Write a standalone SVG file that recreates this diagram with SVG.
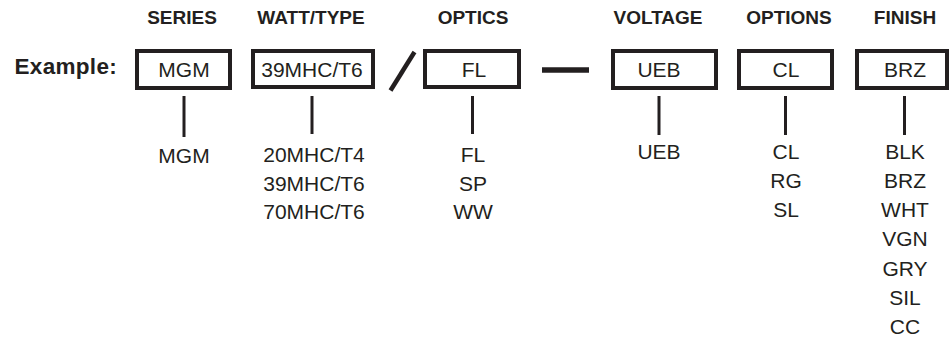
<svg xmlns="http://www.w3.org/2000/svg" width="950" height="339" viewBox="0 0 950 339">
<style>
text{font-family:"Liberation Sans",Arial,sans-serif;fill:#231f20;text-anchor:middle}
.h{font-weight:bold;font-size:19px}
.b{font-size:21px}
.box{fill:#fff;stroke:#231f20;stroke-width:4}
.ln{stroke:#231f20;stroke-width:3;fill:none}
</style>
<rect width="950" height="339" fill="#fff"/>
<g id="headers">
<text class="h" x="182" y="24">SERIES</text>
<text class="h" x="311" y="24">WATT/TYPE</text>
<text class="h" x="473" y="24">OPTICS</text>
<text class="h" x="658" y="24">VOLTAGE</text>
<text class="h" x="789" y="24">OPTIONS</text>
<text class="h" x="905" y="24">FINISH</text>
</g>
<text id="example" x="117" y="74" style="font-weight:bold;font-size:22.5px;text-anchor:end;letter-spacing:0.3px">Example:</text>
<g id="series">
<rect class="box" x="137" y="51" width="93" height="37"/>
<text class="b" x="184" y="77">MGM</text>
<text class="b" x="184" y="163">MGM</text>
</g>
<g id="watt">
<rect class="box" x="253" y="51" width="120" height="36"/>
<text class="b" x="312" y="77">39MHC/T6</text>
<text class="b" x="314" y="162">20MHC/T4</text>
<text class="b" x="314" y="191">39MHC/T6</text>
<text class="b" x="314" y="219">70MHC/T6</text>
</g>
<g id="optics">
<rect class="box" x="425" y="51" width="94" height="36"/>
<text class="b" x="474" y="77">FL</text>
<text class="b" x="473" y="162">FL</text>
<text class="b" x="473" y="191">SP</text>
<text class="b" x="473" y="219">WW</text>
</g>
<g id="voltage">
<rect class="box" x="613" y="51" width="103" height="37"/>
<text class="b" x="659" y="77">UEB</text>
<text class="b" x="659" y="159">UEB</text>
</g>
<g id="options">
<rect class="box" x="739" y="51" width="93" height="37"/>
<text class="b" x="786" y="77">CL</text>
<text class="b" x="786" y="159">CL</text>
<text class="b" x="786" y="188">RG</text>
<text class="b" x="786" y="217">SL</text>
</g>
<g id="finish">
<rect class="box" x="857" y="51" width="90" height="37"/>
<text class="b" x="905" y="77">BRZ</text>
<text class="b" x="905" y="159">BLK</text>
<text class="b" x="905" y="188">BRZ</text>
<text class="b" x="905" y="217">WHT</text>
<text class="b" x="905" y="246">VGN</text>
<text class="b" x="905" y="276">GRY</text>
<text class="b" x="905" y="305">SIL</text>
<text class="b" x="905" y="334">CC</text>
</g>
<g id="connectors">
<line class="ln" x1="184" y1="96" x2="184" y2="137"/>
<line class="ln" x1="312" y1="96" x2="312" y2="134"/>
<line class="ln" x1="472.5" y1="96" x2="472.5" y2="134"/>
<line class="ln" x1="659" y1="96" x2="659" y2="135"/>
<line class="ln" x1="785.5" y1="96" x2="785.5" y2="135"/>
<line class="ln" x1="904.5" y1="96" x2="904.5" y2="135"/>
<line x1="390.5" y1="90.5" x2="414.5" y2="52" stroke="#231f20" stroke-width="4.5"/>
<line x1="542" y1="70" x2="589" y2="70" stroke="#231f20" stroke-width="5.5"/>
</g>
</svg>
